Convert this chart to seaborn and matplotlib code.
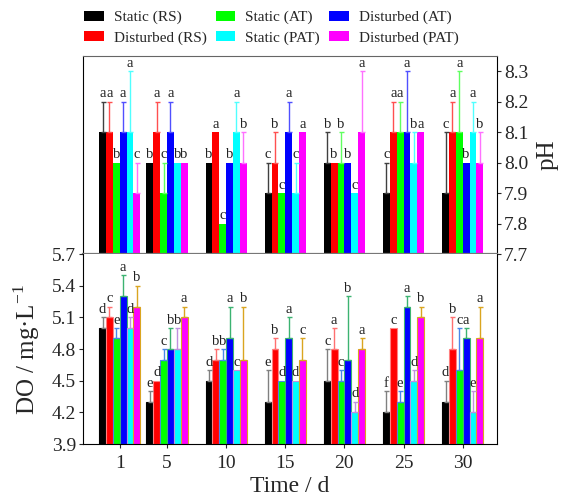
import matplotlib
matplotlib.use('Agg')
import matplotlib.pyplot as plt
from matplotlib.patches import Patch
from matplotlib.container import BarContainer
import seaborn as sns
import pandas as pd
import numpy as np

# Sampling days and treatments
days = [1, 5, 10, 15, 20, 25, 30]
treatments = ['Static (RS)', 'Disturbed (RS)', 'Static (AT)',
              'Disturbed (AT)', 'Static (PAT)', 'Disturbed (PAT)']
bar_colors = ['#000000', '#ff0000', '#00ff00', '#0000ff', '#00ffff', '#ff00ff']

# pH (one row per treatment, one value per day)
ph_mean = [[8.1, 8.0, 8.0, 7.9, 8.0, 7.9, 7.9],
           [8.1, 8.1, 8.1, 8.0, 8.0, 8.1, 8.1],
           [8.0, 7.9, 7.8, 7.9, 8.0, 8.1, 8.1],
           [8.1, 8.1, 8.0, 8.1, 8.0, 8.1, 8.0],
           [8.1, 8.0, 8.1, 7.9, 7.9, 8.0, 8.1],
           [7.9, 8.0, 8.0, 8.1, 8.1, 8.1, 8.0]]
ph_err = [[0.1, 0.0, 0.0, 0.1, 0.1, 0.1, 0.2],
          [0.1, 0.1, 0.0, 0.1, 0.0, 0.1, 0.1],
          [0.0, 0.1, 0.0, 0.0, 0.1, 0.1, 0.2],
          [0.1, 0.1, 0.0, 0.1, 0.0, 0.2, 0.0],
          [0.2, 0.0, 0.1, 0.1, 0.0, 0.1, 0.1],
          [0.1, 0.0, 0.1, 0.0, 0.2, 0.0, 0.1]]
ph_letters = [['a', 'b', 'b', 'c', 'b', 'c', 'c'],
              ['a', 'a', 'a', 'b', 'b', 'a', 'a'],
              ['b', 'c', 'c', 'c', 'b', 'a', 'a'],
              ['a', 'a', 'b', 'a', 'b', 'a', 'b'],
              ['a', 'b', 'a', 'c', 'c', 'b', 'a'],
              ['c', 'b', 'b', 'a', 'a', 'a', 'b']]

# Dissolved oxygen (mg/L)
do_mean = [[5.0, 4.3, 4.5, 4.3, 4.5, 4.2, 4.3],
           [5.1, 4.5, 4.7, 4.8, 4.8, 5.0, 4.8],
           [4.9, 4.7, 4.7, 4.5, 4.5, 4.3, 4.6],
           [5.3, 4.8, 4.9, 4.9, 4.7, 5.2, 4.9],
           [5.0, 4.8, 4.6, 4.5, 4.2, 4.5, 4.2],
           [5.2, 5.1, 4.7, 4.7, 4.8, 5.1, 4.9]]
do_err = [[0.1, 0.1, 0.1, 0.3, 0.3, 0.2, 0.2],
          [0.1, 0.0, 0.1, 0.1, 0.2, 0.0, 0.3],
          [0.1, 0.1, 0.1, 0.0, 0.1, 0.1, 0.4],
          [0.2, 0.2, 0.3, 0.2, 0.6, 0.1, 0.1],
          [0.1, 0.2, 0.0, 0.0, 0.1, 0.1, 0.2],
          [0.2, 0.1, 0.5, 0.2, 0.1, 0.1, 0.3]]
do_letters = [['d', 'e', 'd', 'e', 'c', 'f', 'd'],
              ['c', 'd', 'b', 'b', 'a', 'c', 'b'],
              ['e', 'c', 'b', 'd', 'c', 'e', 'c'],
              ['a', 'b', 'a', 'a', 'b', 'a', 'a'],
              ['d', 'b', 'c', 'd', 'd', 'd', 'e'],
              ['b', 'a', 'b', 'c', 'a', 'b', 'a']]

# error bar / edge colours
ph_err_colors = ['#404040', '#ff5050', '#60ff60', '#5050ff', '#50ffff', '#ff70ff']
do_err_colors = ['#808080', '#ff7070', '#4a86e8', '#3cb371', '#c090e0', '#daa520']
do_edge_colors = ['#000000', '#ff8080', '#4a86e8', '#3cb371', '#c090e0', '#daa520']

sns.set_style('ticks')
plt.rcParams['font.family'] = ['Liberation Serif', 'DejaVu Serif']
plt.rcParams['mathtext.fontset'] = 'custom'
plt.rcParams['mathtext.rm'] = 'Liberation Serif'


def long_frame(means):
    rows = []
    for t, vals in zip(treatments, means):
        for d, v in zip(days, vals):
            rows.append({'day': d, 'treatment': t, 'value': v})
    return pd.DataFrame(rows)


def draw_panel(ax, means, errs, letters, bottom, err_colors, edge_colors=None):
    df = long_frame(means)
    df['height'] = df['value'] - bottom
    sns.barplot(data=df, x='day', y='height', hue='treatment', hue_order=treatments,
                palette=bar_colors, native_scale=True, width=0.87, errorbar=None,
                saturation=1, legend=False, bottom=bottom, linewidth=0, ax=ax)
    bar_conts = [c for c in ax.containers if isinstance(c, BarContainer)]
    for i, cont in enumerate(bar_conts):
        bars = sorted(cont.patches, key=lambda b: b.get_x())
        for j, bar in enumerate(bars):
            xc = bar.get_x() + bar.get_width() / 2
            top = means[i][j]
            e = errs[i][j]
            if edge_colors is not None:
                bar.set_edgecolor(edge_colors[i])
                bar.set_linewidth(0.8)
            if e > 0:
                ax.errorbar([xc], [top], yerr=[[0], [e]], fmt='none',
                            ecolor=err_colors[i], elinewidth=1.0, capsize=1.8,
                            capthick=1.0, zorder=1)
            ax.annotate(letters[i][j], (xc, top + e), xytext=(0, 1),
                        textcoords='offset points', ha='center', va='bottom',
                        fontsize=10.5, color='#222222')


fig = plt.figure(figsize=(5.65, 5.04), dpi=100)
ax_ph = fig.add_axes([0.1469, 0.496, 0.7327, 0.393])
ax_do = fig.add_axes([0.1469, 0.119, 0.7327, 0.377], sharex=ax_ph)

draw_panel(ax_ph, ph_mean, ph_err, ph_letters, 7.7, ph_err_colors)
draw_panel(ax_do, do_mean, do_err, do_letters, 3.9, do_err_colors, do_edge_colors)

# pH axis on the right
ph_ticks = np.round(np.arange(7.7, 8.31, 0.1), 1)
ax_ph.set_ylim(7.7, 8.35)
ax_ph.set_yticks(ph_ticks)
ax_ph.set_yticklabels([f'{v:.1f}' for v in ph_ticks])
ax_ph.yaxis.tick_right()
ax_ph.yaxis.set_label_position('right')
ax_ph.set_ylabel('pH', fontsize=18, labelpad=6)
ax_ph.tick_params(axis='y', labelsize=14, direction='out', length=3, pad=2)
ax_ph.tick_params(axis='x', bottom=False, labelbottom=False)
ax_ph.set_xlabel('')
for side in ['top', 'right', 'left', 'bottom']:
    ax_ph.spines[side].set_visible(True)
ax_ph.spines['top'].set_color('#666666')
ax_ph.spines['bottom'].set_color('#777777')
ax_ph.spines['bottom'].set_linewidth(1.6)
ax_ph.spines['left'].set_color('black')
ax_ph.spines['right'].set_color('black')

# DO axis
do_ticks = np.round(np.arange(3.9, 5.71, 0.3), 1)
ax_do.set_ylim(3.9, 5.7)
ax_do.set_yticks(do_ticks)
ax_do.set_yticklabels([f'{v:.1f}' for v in do_ticks])
ax_do.set_xlim(-2.1, 32.9)
ax_do.set_xticks(days)
ax_do.set_xticklabels([str(d) for d in days])
ax_do.tick_params(axis='both', labelsize=14, direction='out', length=3, pad=2)
ax_do.tick_params(axis='x', pad=5)
ax_do.set_ylabel('DO / mg·L$^{\\mathrm{-1}}$', fontsize=18, labelpad=7)
ax_do.set_xlabel('Time / d', fontsize=17, labelpad=3)
ax_do.spines['top'].set_visible(False)
ax_do.spines['right'].set_visible(True)
for side in ['left', 'right', 'bottom']:
    ax_do.spines[side].set_color('black')

handles = [Patch(facecolor=c, edgecolor='none') for c in bar_colors]
order = [0, 1, 2, 4, 3, 5]
fig.legend([handles[k] for k in order], [treatments[k] for k in order],
           loc='upper center', bbox_to_anchor=(0.48, 1.006), ncol=3,
           frameon=False, fontsize=11, handlelength=1.3, handleheight=0.65,
           handletextpad=0.65, columnspacing=0.6, labelspacing=0.45)

fig.savefig('out.png', dpi=100)
